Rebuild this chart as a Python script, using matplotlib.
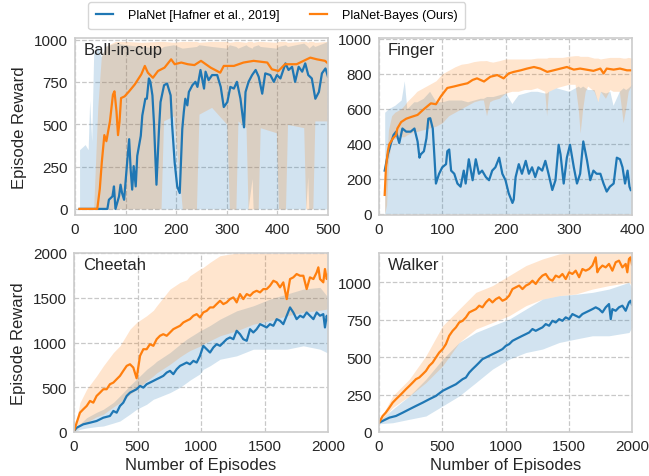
import matplotlib
matplotlib.use("Agg")
import matplotlib.pyplot as plt

# ---- Ball-in-cup (episodes 0-500) ----
bic_blue_x = [9, 64, 67, 74, 77, 80, 87, 90, 93, 97, 103, 107, 110, 113, 116, 120, 123, 130, 133, 139,
              142, 146, 149, 153, 156, 161, 166, 169, 176, 182, 189, 192, 197, 202, 207, 212, 215, 218,
              222, 225, 232, 238, 242, 248, 255, 258, 264, 271, 281, 288, 294, 301, 307, 314, 320, 327,
              334, 337, 343, 350, 357, 363, 370, 376, 386, 393, 399, 406, 416, 422, 429, 435, 442, 449,
              455, 461, 468, 475, 482, 488, 495, 500]
bic_blue_y = [0, 0, 54, 74, 133, 0, 74, 143, 94, 54, 273, 412, 233, 114, 253, 133, 313, 432, 552, 651,
              651, 771, 751, 671, 512, 143, 472, 631, 731, 741, 671, 492, 273, 133, 94, 472, 572, 651,
              612, 691, 731, 751, 721, 821, 711, 811, 761, 791, 791, 721, 602, 631, 721, 711, 751, 651,
              482, 691, 751, 791, 821, 781, 681, 801, 791, 751, 791, 771, 860, 821, 840, 751, 840, 811,
              860, 791, 771, 651, 691, 801, 830, 781]
bic_orange_x = [9, 44, 49, 53, 58, 62, 69, 75, 78, 82, 85, 88, 91, 98, 107, 118, 131, 138, 144, 154, 164,
                177, 190, 197, 210, 223, 236, 249, 268, 287, 294, 314, 333, 353, 380, 389, 402, 415, 438,
                458, 465, 478, 494, 500]
bic_orange_y = [0, 0, 118, 277, 436, 400, 516, 675, 695, 576, 436, 516, 655, 665, 695, 735, 795, 845, 805,
                775, 815, 835, 884, 855, 865, 855, 850, 875, 835, 805, 845, 845, 865, 875, 865, 825, 815,
                855, 855, 884, 894, 884, 875, 860]
bic_band_x = [9, 20, 26, 29, 33, 37, 45, 52, 60, 80, 100, 130, 170, 175, 195, 212, 240, 245, 270, 300,
              305, 318, 322, 338, 342, 350, 352, 362, 366, 398, 402, 416, 420, 452, 456, 460, 462, 470,
              474, 500]
bic_blue_lo = [0, 0, 0, 0, 0, 0, 0, 0, 0, 0, 0, 0, 0, 0, 0, 0, 0, 0, 0, 0,
               0, 0, 0, 0, 0, 180, 0, 0, 0, 0, 0, 0, 0, 0, 0, 190, 0, 0,
               0, 0]
bic_blue_hi = [350, 380, 350, 640, 400, 930, 960, 900, 960, 980, 970, 960, 950, 960, 970, 950, 960, 970,
               960, 950, 970, 960, 950, 970, 960, 950, 960, 970, 960, 950, 960, 970, 960, 980, 970, 960,
               950, 970, 960, 990]
bic_orange_lo = [0, 0, 0, 0, 0, 0, 0, 0, 0, 0, 0, 0, 0, 520, 550, 0, 0, 560, 600, 500,
                 0, 0, 520, 480, 0, 0, 0, 0, 480, 450, 0, 0, 500, 480, 0, 0, 0, 0,
                 520, 520]
bic_orange_hi = [0, 0, 0, 0, 0, 10, 600, 900, 960, 990, 990, 985, 990, 990, 985, 990, 990, 985, 990, 990,
                 985, 990, 990, 985, 990, 990, 985, 990, 990, 985, 990, 990, 985, 990, 990, 985, 990, 990,
                 985, 990]

# ---- Finger (episodes 0-400) ----
fin_blue_x = [9, 14, 19, 23, 27, 32, 37, 43, 50, 56, 61, 64, 66, 71, 75, 78, 81, 85, 88, 90, 95, 100, 106,
              108, 111, 114, 119, 124, 129, 134, 137, 142, 148, 153, 158, 163, 169, 174, 179, 184, 190,
              195, 200, 205, 211, 213, 216, 221, 226, 232, 237, 242, 247, 252, 258, 263, 268, 274, 279,
              284, 287, 292, 297, 302, 308, 313, 318, 323, 329, 334, 339, 344, 350, 355, 360, 365, 371,
              376, 381, 385, 389, 393, 396, 398]
fin_blue_y = [246, 339, 404, 450, 469, 404, 487, 469, 469, 487, 413, 320, 339, 357, 431, 543, 546, 487, 302,
              172, 228, 265, 283, 357, 367, 246, 228, 172, 154, 246, 172, 311, 191, 311, 228, 246, 209,
              191, 246, 265, 320, 228, 191, 117, 61, 80, 209, 283, 228, 302, 228, 265, 209, 265, 246, 302,
              228, 135, 191, 394, 339, 172, 320, 394, 265, 172, 228, 413, 302, 191, 246, 228, 228, 172,
              126, 154, 172, 320, 311, 265, 172, 246, 154, 135]
fin_orange_x = [9, 11, 14, 16, 22, 27, 29, 35, 43, 50, 61, 71, 82, 90, 98, 108, 119, 129, 140, 148, 155,
                166, 176, 187, 197, 205, 213, 224, 234, 245, 255, 266, 276, 287, 297, 308, 318, 339, 350,
                355, 360, 371, 381, 392, 398]
fin_orange_y = [107, 265, 357, 394, 431, 450, 487, 524, 543, 552, 565, 598, 631, 626, 672, 719, 728, 737,
                746, 765, 774, 756, 783, 793, 774, 802, 811, 820, 830, 839, 830, 811, 820, 830, 839, 824,
                830, 817, 830, 802, 830, 824, 830, 820, 820]
fin_band_x = [9, 12, 15, 20, 25, 35, 40, 44, 55, 60, 70, 80, 90, 100, 110, 120, 130, 140, 150, 160, 165,
              170, 175, 180, 190, 200, 210, 220, 230, 240, 250, 262, 265, 268, 280, 290, 300, 310, 315,
              318, 322, 326, 330, 340, 346, 350, 358, 365, 370, 380, 386, 390, 394, 400]
fin_blue_lo = [0] * 54
fin_blue_hi = [580, 590, 600, 610, 620, 650, 760, 600, 640, 640, 660, 700, 640, 640, 650, 650, 650, 640,
               650, 660, 660, 670, 670, 670, 680, 690, 630, 680, 690, 700, 700, 690, 690, 700, 720, 710,
               700, 720, 730, 720, 730, 720, 710, 710, 640, 700, 690, 700, 620, 700, 720, 710, 720, 740]
fin_orange_lo = [0, 50, 300, 420, 430, 440, 440, 450, 470, 470, 480, 490, 500, 520, 560, 580, 600, 620,
                 640, 650, 650, 560, 640, 650, 660, 690, 700, 700, 710, 710, 720, 700, 560, 700, 720, 730,
                 740, 740, 600, 460, 600, 700, 730, 700, 640, 700, 660, 710, 700, 700, 520, 600, 700, 740]
fin_orange_hi = [110, 300, 480, 560, 580, 600, 620, 640, 680, 700, 720, 740, 760, 800, 820, 840, 855, 860,
                 870, 875, 875, 876, 870, 867, 875, 885, 885, 885, 885, 885, 890, 890, 890, 894, 894, 894,
                 900, 904, 904, 900, 900, 900, 900, 890, 890, 885, 890, 894, 894, 894, 890, 890, 894, 890]

# ---- Cheetah (episodes 0-2000) ----
che_blue_x = [0, 21, 73, 126, 178, 231, 283, 310, 336, 362, 388, 415, 441, 467, 493, 520, 546, 572, 598,
              625, 651, 677, 703, 730, 756, 782, 808, 835, 861, 887, 913, 940, 966, 992, 1018, 1045, 1071,
              1097, 1123, 1150, 1176, 1202, 1228, 1255, 1281, 1307, 1333, 1360, 1386, 1412, 1438, 1465,
              1491, 1517, 1543, 1570, 1596, 1622, 1648, 1675, 1701, 1727, 1753, 1780, 1806, 1832, 1858,
              1885, 1911, 1937, 1963, 1976, 1990, 2000]
che_blue_y = [10, 48, 86, 104, 123, 160, 179, 235, 216, 291, 328, 403, 440, 459, 478, 515, 496, 534, 552,
              571, 590, 608, 627, 664, 683, 646, 701, 739, 757, 776, 757, 795, 776, 851, 963, 925, 888,
              944, 981, 963, 1000, 1037, 1056, 1037, 1131, 1093, 1037, 1019, 1149, 1112, 1149, 1205, 1187,
              1168, 1205, 1187, 1261, 1243, 1205, 1299, 1392, 1336, 1261, 1299, 1280, 1336, 1299, 1261,
              1336, 1299, 1317, 1168, 1299, 1250]
che_orange_x = [0, 21, 47, 73, 100, 126, 152, 178, 205, 231, 257, 283, 310, 336, 362, 388, 415, 441, 467,
                493, 520, 546, 572, 598, 625, 651, 677, 703, 730, 756, 782, 808, 835, 861, 887, 913, 940,
                966, 992, 1018, 1045, 1071, 1097, 1123, 1150, 1176, 1202, 1228, 1255, 1281, 1307, 1333,
                1360, 1386, 1412, 1438, 1465, 1491, 1517, 1543, 1570, 1596, 1622, 1648, 1675, 1701, 1727,
                1753, 1780, 1806, 1832, 1858, 1885, 1911, 1924, 1937, 1963, 1976, 1990, 2000]
che_orange_y = [10, 104, 216, 254, 291, 347, 328, 403, 440, 478, 478, 534, 552, 590, 627, 683, 739, 757,
                720, 600, 851, 925, 925, 981, 963, 1037, 1075, 1093, 1075, 1112, 1149, 1168, 1187, 1224,
                1243, 1261, 1299, 1317, 1280, 1336, 1354, 1392, 1392, 1429, 1466, 1429, 1448, 1485, 1504,
                1448, 1541, 1485, 1541, 1522, 1560, 1578, 1560, 1597, 1597, 1634, 1690, 1672, 1616, 1672,
                1485, 1709, 1728, 1765, 1746, 1746, 1597, 1728, 1709, 1784, 1840, 1709, 1672, 1821, 1709,
                1760]
che_band_x = [0, 47, 100, 178, 231, 310, 362, 441, 493, 572, 625, 651, 756, 835, 887, 913, 992, 1018,
              1071, 1150, 1281, 1412, 1543, 1675, 1806, 1937, 1990, 2000]
che_blue_lo = [0, 30, 45, 60, 67, 100, 123, 200, 254, 310, 366, 380, 440, 500, 552, 580, 650, 701,
               740, 813, 851, 925, 925, 925, 963, 925, 888, 880]
che_blue_hi = [0, 90, 160, 220, 254, 330, 403, 520, 590, 700, 757, 790, 888, 980, 1037, 1060, 1130,
               1149, 1190, 1261, 1354, 1410, 1485, 1541, 1597, 1616, 1522, 1520]
che_orange_lo = [0, 67, 110, 170, 198, 280, 328, 420, 478, 570, 627, 660, 757, 840, 888, 910, 960, 981,
                 1020, 1075, 1131, 1205, 1243, 1299, 1336, 1360, 1373, 1380]
che_orange_hi = [0, 328, 478, 627, 739, 888, 963, 1149, 1224, 1299, 1360, 1410, 1597, 1672, 1700,
                 1746, 1821, 1840, 1896, 1970, 2000, 2000, 2000, 2000, 2000, 2000, 2000, 2000]

# ---- Walker (episodes 0-2000) ----
wal_blue_x = [0, 29, 82, 134, 187, 240, 292, 345, 397, 450, 503, 555, 608, 661, 687, 713, 739, 766, 792,
              818, 845, 871, 897, 924, 950, 976, 1003, 1029, 1055, 1082, 1108, 1134, 1161, 1187, 1213,
              1239, 1266, 1292, 1318, 1345, 1371, 1397, 1424, 1450, 1476, 1503, 1529, 1555, 1582, 1608,
              1634, 1661, 1687, 1713, 1740, 1766, 1792, 1818, 1832, 1845, 1871, 1897, 1924, 1950, 1976,
              1989, 2000]
wal_blue_y = [62, 74, 96, 107, 129, 152, 174, 196, 219, 241, 275, 297, 319, 353, 364, 397, 420, 442, 464,
              487, 498, 509, 520, 531, 542, 554, 576, 587, 609, 621, 632, 643, 654, 665, 688, 676, 688,
              699, 721, 710, 743, 732, 754, 743, 766, 754, 788, 777, 766, 788, 799, 810, 821, 833, 821,
              799, 833, 855, 754, 821, 810, 833, 844, 810, 866, 877, 850]
wal_orange_x = [0, 29, 53, 82, 108, 134, 161, 187, 213, 240, 266, 292, 318, 345, 371, 397, 424, 450, 476,
                503, 529, 555, 582, 608, 634, 661, 687, 713, 739, 766, 792, 818, 845, 871, 897, 924, 950,
                976, 1003, 1029, 1055, 1082, 1108, 1134, 1161, 1187, 1213, 1239, 1266, 1292, 1318, 1345,
                1371, 1397, 1424, 1450, 1476, 1503, 1529, 1555, 1582, 1608, 1634, 1661, 1687, 1713, 1726,
                1740, 1766, 1792, 1818, 1845, 1871, 1897, 1924, 1950, 1963, 1976, 1989, 2000]
wal_orange_y = [62, 107, 129, 163, 196, 219, 241, 263, 286, 308, 330, 353, 364, 386, 408, 442, 464, 498,
                531, 554, 587, 643, 676, 699, 732, 743, 766, 799, 810, 821, 844, 833, 866, 888, 866, 888,
                900, 877, 888, 911, 955, 967, 978, 955, 978, 989, 1011, 989, 1022, 1045, 1056, 1022, 1011,
                1045, 1034, 1056, 1022, 1067, 1056, 1078, 1034, 1089, 1078, 1089, 1112, 1167, 1067, 1089,
                1112, 1100, 1123, 1078, 1134, 1145, 1100, 1123, 1067, 1156, 1167, 1120]
wal_band_x = [0, 108, 240, 371, 503, 634, 766, 897, 1029, 1161, 1292, 1424, 1555, 1687, 1818, 1976, 2000]
wal_blue_lo = [55, 62, 85, 107, 174, 241, 330, 420, 487, 531, 554, 598, 621, 643, 643, 665, 700]
wal_blue_hi = [70, 152, 241, 353, 487, 598, 665, 710, 754, 821, 888, 911, 920, 933, 955, 1000, 960]
wal_orange_lo = [55, 163, 241, 330, 442, 598, 688, 732, 777, 844, 888, 911, 922, 955, 978, 1000, 980]
wal_orange_hi = [70, 241, 353, 509, 710, 821, 933, 978, 1045, 1112, 1156, 1190, 1200, 1200, 1200, 1200, 1200]

BLUE = "#1f77b4"
ORANGE = "#ff7f0e"
TXT = "#262626"

plt.rcParams["font.family"] = ["Liberation Sans", "DejaVu Sans"]

fig = plt.figure(figsize=(6.49, 4.77), dpi=100)
W, H = 649.0, 477.0


def make_ax(l, t, r, b):
    return fig.add_axes([l / W, 1 - b / H, (r - l) / W, (b - t) / H])


panels = [
    (make_ax(75, 39, 328, 216), "Ball-in-cup",
     (bic_blue_x, bic_blue_y), (bic_orange_x, bic_orange_y),
     (bic_band_x, bic_blue_lo, bic_blue_hi, bic_orange_lo, bic_orange_hi),
     (0, 500), (-36, 1010), [0, 100, 200, 300, 400, 500], [0, 250, 500, 750, 1000]),
    (make_ax(379, 39, 632, 216), "Finger",
     (fin_blue_x, fin_blue_y), (fin_orange_x, fin_orange_y),
     (fin_band_x, fin_blue_lo, fin_blue_hi, fin_orange_lo, fin_orange_hi),
     (0, 400), (-8, 1005), [0, 100, 200, 300, 400], [0, 200, 400, 600, 800, 1000]),
    (make_ax(74, 254, 328, 433), "Cheetah",
     (che_blue_x, che_blue_y), (che_orange_x, che_orange_y),
     (che_band_x, che_blue_lo, che_blue_hi, che_orange_lo, che_orange_hi),
     (0, 2000), (0, 2000), [0, 500, 1000, 1500, 2000], [0, 500, 1000, 1500, 2000]),
    (make_ax(379, 254, 632, 433), "Walker",
     (wal_blue_x, wal_blue_y), (wal_orange_x, wal_orange_y),
     (wal_band_x, wal_blue_lo, wal_blue_hi, wal_orange_lo, wal_orange_hi),
     (0, 2000), (0, 1196), [0, 500, 1000, 1500, 2000], [0, 250, 500, 750, 1000]),
]

for i, (ax, name, blue, orange, band, xl, yl, xt, yt) in enumerate(panels):
    bx, blo, bhi, olo, ohi = band
    ax.fill_between(bx, blo, bhi, color=BLUE, alpha=0.2, linewidth=0)
    ax.fill_between(bx, olo, ohi, color=ORANGE, alpha=0.2, linewidth=0)
    l1, = ax.plot(blue[0], blue[1], color=BLUE, lw=1.6)
    l2, = ax.plot(orange[0], orange[1], color=ORANGE, lw=1.6)
    ax.set_xlim(*xl)
    ax.set_ylim(*yl)
    ax.set_xticks(xt)
    ax.set_yticks(yt)
    ax.grid(True, color="#c8c8c8", linestyle="--", linewidth=0.9)
    ax.set_axisbelow(True)
    for s in ax.spines.values():
        s.set_color("#cccccc")
        s.set_linewidth(1.2)
    ax.tick_params(length=0, labelsize=11, labelcolor=TXT, pad=5)
    ax.text(0.035, 0.935, name, transform=ax.transAxes, fontsize=12, color=TXT,
            ha="left", va="center")
    if i % 2 == 0:
        ax.set_ylabel("Episode Reward", fontsize=12, color=TXT, labelpad=5)
    if i >= 2:
        ax.set_xlabel("Number of Episodes", fontsize=12, color=TXT, labelpad=3)

fig.legend([l1, l2], ["PlaNet [Hafner et al., 2019]", "PlaNet-Bayes (Ours)"],
           loc="upper left", bbox_to_anchor=(88 / W, 1 - 3 / H), borderaxespad=0,
           ncol=2, fontsize=9, frameon=True, edgecolor="#cccccc", handlelength=1.4,
           handletextpad=1.2, columnspacing=2.4, borderpad=0.6)

fig.savefig("out.png", dpi=100)
